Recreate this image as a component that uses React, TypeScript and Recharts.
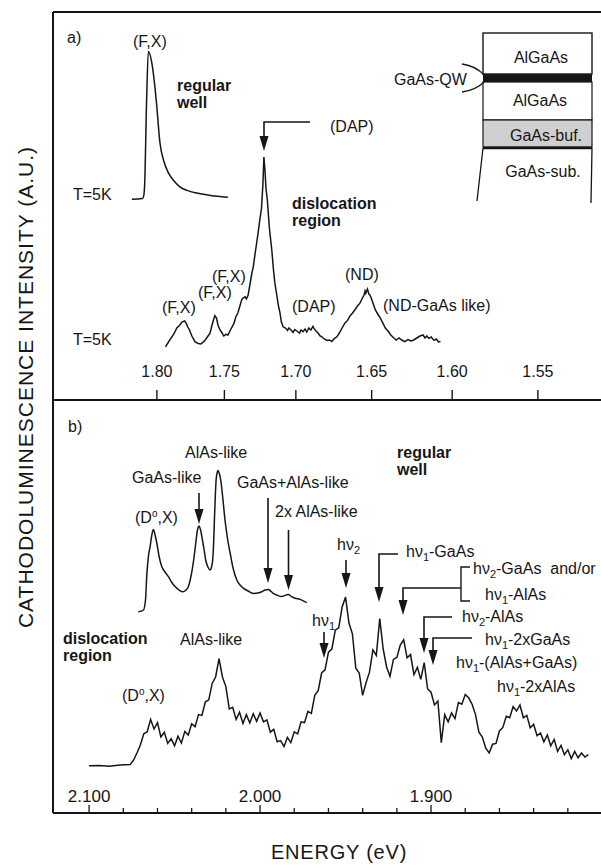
import React from "react";
import { LineChart, Line, XAxis, YAxis, ReferenceLine } from "recharts";

const FONT = '"Liberation Sans", Arial, Helvetica, sans-serif';
const INK = "#161616";
const HC = 1239.84; // eV*nm

// ---- panel a) : spectra recorded against wavelength (nm), axis labelled in eV
const ticksA_eV = [1.8, 1.75, 1.7, 1.65, 1.6, 1.55];

const wellA_nm = [681.5, 684.6, 685.0, 685.2, 685.8, 686.3, 687.5, 688.6, 689.7, 690.8, 692.2, 693.8, 695.5, 697.6, 700.0, 702.8, 705.6, 709.5];
const wellA_au = [50.2, 50.4, 51.3, 53.3, 75, 87.1, 83.3, 75, 64.2, 59.75, 56.7, 54.75, 53.3, 52.4, 51.8, 51.4, 51, 50.7];

const dislA_nm = [
  691.3, 692.0, 692.6, 693.2, 693.9, 694.6, 695.5, 696.1, 696.9, 697.4,
  697.8, 698.3, 699.0, 699.9, 700.8, 701.6, 702.2, 702.9, 703.7, 704.3,
  704.8, 705.3, 705.7, 706.2, 706.6, 707.2, 707.8, 708.3, 708.9, 709.5,
  710.1, 710.7, 711.3, 711.8, 712.4, 713.0, 713.5, 713.9, 714.5, 714.9,
  715.4, 715.9, 716.5, 716.9, 717.5, 718.3, 718.8, 719.3, 719.7, 720.0,
  720.3, 720.6, 721.0, 721.6, 722.3, 722.8, 723.2, 723.8, 724.2, 724.7,
  725.1, 725.6, 726.3, 726.9, 727.3, 727.9, 728.5, 729.0, 729.6, 730.4,
  730.8, 731.4, 732.0, 732.5, 733.1, 733.7, 734.3, 734.6, 735.2, 735.8,
  736.3, 736.9, 737.6, 738.4, 739.1, 739.8, 740.6, 741.3, 742.0, 742.8,
  743.6, 744.4, 745.1, 745.8, 746.5, 747.3, 748.0, 748.6, 749.2, 749.5,
  749.7, 750.2, 750.6, 750.9, 751.4, 751.9, 752.5, 753.2, 754.0, 754.7,
  755.4, 756.2, 757.0, 757.9, 758.6, 759.4, 760.2, 761.1, 762.0, 762.9,
  763.7, 764.6, 765.5, 766.4, 767.0, 767.5, 768.1, 768.8, 769.6, 770.3,
  770.9, 771.5,
];
const dislA_au = [
  13.3, 14.25, 15.1, 15.8, 16.75, 18, 18.75, 19.5, 19.75, 19.1,
  18.25, 17.5, 16, 14.6, 14.1, 14, 14.4, 15, 16, 16.7,
  18.5, 20, 21.1, 20.5, 18.75, 17.5, 16.75, 16, 16.4, 16.25,
  17.25, 18.25, 19.2, 20.75, 21.75, 23.5, 25, 25.5, 25.8, 25.25,
  26.25, 28.75, 31.75, 33.3, 37, 41.7, 45, 48, 53.75, 60.75,
  57.5, 53, 50, 43, 37.5, 32.5, 29.2, 26, 23.75, 21.7,
  19.5, 18.3, 18, 17.4, 18, 17.5, 16.9, 17.6, 17.25, 16.75,
  17.5, 17.1, 17.75, 17, 18, 17.5, 18.4, 17.9, 17.25, 16.75,
  16.1, 15.8, 15.25, 14.9, 15, 14.6, 15.4, 15.8, 16.75, 18,
  19.2, 19.9, 21, 21.7, 22.5, 23.5, 24.2, 25.25, 26.25, 27.25,
  26.7, 27.75, 26.5, 26.25, 25.25, 24, 22.5, 21.5, 20.4, 19.2,
  18, 17.25, 16.25, 15.5, 15, 15.5, 15, 14.6, 15.1, 14.75,
  15, 15.5, 16, 16.25, 15.5, 16, 15.4, 15.75, 14.9, 15.25,
  14.5, 14.6,
];

// ---- panel b) : energy axis (eV)
const ticksB_eV = [2.1, 2.08, 2.06, 2.04, 2.02, 2.0, 1.98, 1.96, 1.94, 1.92, 1.9, 1.88, 1.86, 1.84, 1.82];

const wellB_eV = [
  2.0712, 2.0682, 2.067, 2.0663, 2.0652, 2.0643, 2.0633, 2.0624, 2.0614, 2.0604,
  2.0591, 2.0575, 2.0556, 2.0536, 2.0518, 2.0497, 2.0474, 2.0452, 2.0433, 2.0419,
  2.0406, 2.0394, 2.0383, 2.0374, 2.0366, 2.0357, 2.0348, 2.0337, 2.0327, 2.0318,
  2.0305, 2.0292, 2.0284, 2.0277, 2.0272, 2.0267, 2.0262, 2.0257, 2.0251, 2.0247,
  2.0241, 2.023, 2.0218, 2.0205, 2.019, 2.0175, 2.0158, 2.0136, 2.0117, 2.0098,
  2.007, 2.0039, 2.0012, 1.999, 1.9971, 1.9951, 1.9936, 1.9922, 1.9898, 1.9873,
  1.9854, 1.9835, 1.9816, 1.9795, 1.9766, 1.9727,
];
const wellB_au = [
  50.3, 50.75, 53.25, 59.1, 64.5, 66.6, 69.5, 70.9, 69.5, 67.5,
  64.25, 61.6, 60.25, 59.1, 57.75, 56.6, 55.75, 55.3, 55.75, 56.6,
  58.75, 61.6, 65, 68.25, 70.75, 71.75, 70.75, 68.25, 65.75, 63.25,
  61.5, 60.75, 61.5, 63.25, 67, 73.25, 79, 83.25, 85.1, 85.6,
  85.25, 83.25, 78.75, 73.25, 68.5, 65, 61.25, 58.25, 57, 56.2,
  55.5, 54.9, 55, 55.3, 55.75, 55.9, 55.4, 54.9, 54.4, 54.1,
  54.4, 54.6, 54.1, 53.7, 53.4, 52.6,
];

const dislB_eV = [
  2.1, 2.094, 2.088, 2.082, 2.076,
  2.074, 2.072, 2.07, 2.068, 2.066, 2.064, 2.062, 2.06, 2.058, 2.056,
  2.054, 2.052, 2.05, 2.048, 2.046, 2.044, 2.042, 2.04, 2.038, 2.036,
  2.034, 2.032, 2.03, 2.028, 2.026, 2.024, 2.022, 2.02, 2.018, 2.016,
  2.014, 2.012, 2.01, 2.008, 2.006, 2.004, 2.002, 2.0, 1.998, 1.996,
  1.994, 1.992, 1.99, 1.988, 1.986, 1.984, 1.982, 1.98, 1.978, 1.976,
  1.974, 1.972, 1.97, 1.968, 1.966, 1.964, 1.962, 1.96, 1.958, 1.956,
  1.954, 1.952, 1.95, 1.948, 1.946, 1.944, 1.942, 1.94, 1.938, 1.936,
  1.934, 1.932, 1.93, 1.928, 1.926, 1.924, 1.922, 1.92, 1.918, 1.916,
  1.914, 1.912, 1.91, 1.908, 1.906, 1.904, 1.902, 1.9, 1.898, 1.896,
  1.894, 1.892, 1.89, 1.888, 1.886, 1.884, 1.882, 1.88, 1.878, 1.876,
  1.874, 1.872, 1.87, 1.868, 1.866, 1.864, 1.862, 1.86, 1.858, 1.856,
  1.854, 1.852, 1.85, 1.848, 1.846, 1.844, 1.842, 1.84, 1.838, 1.836,
  1.834, 1.832, 1.83, 1.828, 1.826, 1.824, 1.822, 1.82, 1.818, 1.816,
  1.814, 1.812, 1.81, 1.808,
];
const dislB_au = [
  11.8, 11.9, 11.7, 12.0, 12.1,
  13.2, 15.0, 17.0, 19.8, 20.3, 23.4, 21.0, 22.6, 19.0, 20.2,
  17.4, 18.6, 16.8, 19.2, 17.5, 20.4, 19.5, 22.3, 21.6, 24.6,
  24.4, 27.8, 28.3, 32.4, 34.0, 38.6, 34.0, 31.6, 26.0, 26.4,
  23.4, 25.2, 22.4, 24.6, 22.5, 24.8, 22.9, 25.0, 22.8, 23.3,
  20.2, 20.9, 17.8, 18.1, 16.6, 18.9, 17.6, 20.3, 19.8, 22.8,
  22.6, 25.4, 24.9, 29.4, 30.6, 35.0, 35.8, 40.2, 41.0, 45.7,
  46.3, 51.5, 54.0, 47.5, 44.8, 36.2, 35.0, 29.4, 32.6, 35.2,
  40.8, 39.4, 48.6, 41.0, 36.5, 34.2, 38.4, 38.9, 42.0, 43.3,
  38.8, 39.6, 34.6, 36.4, 33.4, 37.6, 31.0, 30.2, 27.0, 28.0,
  17.6, 24.6, 22.8, 25.0, 23.6, 27.6, 27.2, 29.6, 28.8, 27.2,
  24.6, 20.2, 19.0, 16.2, 15.0, 17.2, 17.4, 20.5, 21.4, 24.2,
  23.8, 26.6, 25.5, 27.0, 23.8, 24.4, 21.3, 22.2, 19.3, 20.0,
  17.8, 19.5, 16.8, 18.4, 15.4, 16.9, 14.6, 15.8, 13.6, 15.4,
  13.8, 15.0, 14.0, 14.6,
];

const wellA = wellA_nm.map((nm, i) => ({ nm, au: wellA_au[i] }));
const dislA = dislA_nm.map((nm, i) => ({ nm, au: dislA_au[i] }));
const wellB = wellB_eV.map((ev, i) => ({ ev, au: wellB_au[i] }));
const dislB = dislB_eV.map((ev, i) => ({ ev, au: dislB_au[i] }));

function TickA(props: any) {
  const { x, y, payload } = props;
  return (
    <g>
      <line x1={x} y1={y} x2={x} y2={y - 10} stroke={INK} strokeWidth={1.4} />
      <text x={x} y={y - 23} textAnchor="middle" fontSize={16} fontFamily={FONT} fill={INK}>
        {(HC / payload.value).toFixed(2)}
      </text>
    </g>
  );
}

function TickB(props: any) {
  const { x, y, payload } = props;
  const v = payload.value;
  const major = Math.abs(v * 10 - Math.round(v * 10)) < 1e-6;
  return (
    <g>
      <line x1={x} y1={y} x2={x} y2={y - (major ? 8 : 5)} stroke={INK} strokeWidth={1.3} />
      {major && (
        <text x={x} y={y - 11} textAnchor="middle" fontSize={17} fontFamily={FONT} fill={INK}>
          {v.toFixed(3)}
        </text>
      )}
    </g>
  );
}

function T({ x, y, children, bold, size = 16, anchor = "start" }: any) {
  return (
    <text x={x} y={y} fontSize={size} fontWeight={bold ? "bold" : "normal"} fontFamily={FONT} fill={INK} textAnchor={anchor}>
      {children}
    </text>
  );
}

// h nu with subscript
function Hnu({ x, y, sub, rest = "" }: any) {
  return (
    <text x={x} y={y} fontSize={16} fontFamily={FONT} fill={INK}>
      hν<tspan dy={4} fontSize={11}>{sub}</tspan>
      <tspan dy={-4}>{rest}</tspan>
    </text>
  );
}

function D0X({ x, y }: any) {
  return (
    <text x={x} y={y} fontSize={16} fontFamily={FONT} fill={INK}>
      (D<tspan dy={-6} fontSize={10}>o</tspan>
      <tspan dy={6}>,X)</tspan>
    </text>
  );
}

function Head({ x, y }: any) {
  return <polygon points={`${x - 4.5},${y - 15} ${x + 4.5},${y - 15} ${x},${y}`} fill={INK} />;
}

function Down({ x, y1, y2 }: any) {
  return (
    <g>
      <line x1={x} y1={y1} x2={x} y2={y2 - 12} stroke={INK} strokeWidth={1.6} />
      <Head x={x} y={y2} />
    </g>
  );
}

function Elbow({ x0, y0, x, y2 }: any) {
  return (
    <g>
      <path d={`M${x0},${y0} H${x} V${y2 - 12}`} fill="none" stroke={INK} strokeWidth={1.6} />
      <Head x={x} y={y2} />
    </g>
  );
}

const lineStyle = { stroke: INK, strokeWidth: 1.5, dot: false as const, isAnimationActive: false };

export default function App() {
  return (
    <div style={{ position: "absolute", left: 0, top: 0, width: 601, height: 867, background: "#fff", overflow: "hidden" }}>
      <div style={{ position: "absolute", left: 0, top: 0 }}>
        <LineChart width={601} height={401} margin={{ top: 12, right: 0, bottom: 0, left: 52 }}>
          <XAxis
            type="number"
            dataKey="nm"
            domain={[658.5, 818.3]}
            allowDataOverflow
            ticks={ticksA_eV.map((e) => HC / e)}
            interval={0}
            tick={<TickA />}
            tickLine={false}
            tickSize={0}
            tickMargin={0}
            height={1}
            axisLine={{ stroke: INK, strokeWidth: 2 }}
          />
          <YAxis type="number" domain={[0, 97]} allowDataOverflow width={1} tick={false} tickLine={false} axisLine={{ stroke: INK, strokeWidth: 2 }} />
          <ReferenceLine y={97} stroke={INK} strokeWidth={2} />
          <Line data={wellA} dataKey="au" type="monotone" {...lineStyle} />
          <Line data={dislA} dataKey="au" type="linear" {...lineStyle} />
        </LineChart>
      </div>
      <div style={{ position: "absolute", left: 0, top: 400 }}>
        <LineChart width={601} height={414} margin={{ top: 0, right: 0, bottom: 0, left: 52 }}>
          <XAxis
            type="number"
            dataKey="ev"
            domain={[1.8006, 2.1211]}
            reversed
            allowDataOverflow
            ticks={ticksB_eV}
            interval={0}
            tick={<TickB />}
            tickLine={false}
            tickSize={0}
            tickMargin={0}
            height={1}
            axisLine={{ stroke: INK, strokeWidth: 2 }}
          />
          <YAxis type="number" domain={[0, 103.25]} allowDataOverflow width={1} tick={false} tickLine={false} axisLine={{ stroke: INK, strokeWidth: 2 }} />
          <Line data={wellB} dataKey="au" type="monotone" {...lineStyle} />
          <Line data={dislB} dataKey="au" type="linear" {...lineStyle} />
        </LineChart>
      </div>

      <svg style={{ position: "absolute", left: 0, top: 0 }} width={601} height={867}>
        {/* axis titles */}
        <text x={25} y={387} transform="rotate(-90 25 387)" textAnchor="middle" dominantBaseline="central" fontSize={21} letterSpacing={1} fontFamily={FONT} fill={INK}>
          CATHODOLUMINESCENCE INTENSITY (A.U.)
        </text>
        <text x={339} y={859} textAnchor="middle" fontSize={20} letterSpacing={0.8} fontFamily={FONT} fill={INK}>
          ENERGY (eV)
        </text>

        {/* panel a annotations */}
        <T x={67} y={43}>a)</T>
        <T x={133} y={47}>(F,X)</T>
        <T x={177} y={91} bold>regular</T>
        <T x={177} y={108} bold>well</T>
        <T x={73} y={200}>T=5K</T>
        <T x={330} y={132}>(DAP)</T>
        <Elbow x0={310} y0={122} x={264} y2={151} />
        <T x={292} y={209} bold>dislocation</T>
        <T x={292} y={226} bold>region</T>
        <T x={345} y={280}>(ND)</T>
        <T x={212} y={282}>(F,X)</T>
        <T x={198} y={298}>(F,X)</T>
        <T x={162} y={313}>(F,X)</T>
        <T x={292} y={312}>(DAP)</T>
        <T x={383} y={311}>(ND-GaAs like)</T>
        <T x={73} y={345}>T=5K</T>

        {/* layer structure sketch */}
        <rect x={483} y={33} width={109} height={41} fill="#fff" stroke={INK} strokeWidth={1.4} />
        <rect x={483} y={74} width={109} height={8} fill={INK} />
        <rect x={483} y={82} width={109} height={38} fill="#fff" stroke={INK} strokeWidth={1.2} />
        <rect x={483} y={120} width={109} height={27} fill="#cfcfcf" stroke={INK} strokeWidth={1.2} />
        <line x1={483} y1={148} x2={592} y2={148} stroke={INK} strokeWidth={2.5} />
        <line x1={483} y1={148} x2={477} y2={201} stroke={INK} strokeWidth={1.3} />
        <line x1={592} y1={148} x2={591} y2={203} stroke={INK} strokeWidth={1.3} />
        <T x={541} y={63} anchor="middle">AlGaAs</T>
        <T x={540} y={106} anchor="middle">AlGaAs</T>
        <T x={546} y={141} anchor="middle">GaAs-buf.</T>
        <T x={543} y={177} anchor="middle">GaAs-sub.</T>
        <T x={394} y={85}>GaAs-QW</T>
        <path d="M462,64 Q476,66 484,75" fill="none" stroke={INK} strokeWidth={1.3} />
        <path d="M462,92 Q476,90 484,82" fill="none" stroke={INK} strokeWidth={1.3} />

        {/* panel b annotations */}
        <T x={68} y={432}>b)</T>
        <T x={185} y={458}>AlAs-like</T>
        <T x={132} y={483}>GaAs-like</T>
        <T x={237} y={488}>GaAs+AlAs-like</T>
        <D0X x={135} y={523} />
        <T x={275} y={517}>2x AlAs-like</T>
        <Down x={199} y1={493} y2={524} />
        <Down x={268} y1={498} y2={583} />
        <Down x={288.5} y1={530} y2={590} />
        <T x={397} y={458} bold>regular</T>
        <T x={397} y={475} bold>well</T>

        <Hnu x={337} y={550} sub="2" />
        <Down x={346} y1={560} y2={588} />
        <Hnu x={406} y={557} sub="1" rest="-GaAs" />
        <Elbow x0={398} y0={554} x={379} y2={602} />
        <Hnu x={473} y={574} sub="2" rest={"-GaAs\u00a0\u00a0and/or"} />
        <Hnu x={485} y={600} sub="1" rest="-AlAs" />
        <path d="M470,567 H461 V601 H470" fill="none" stroke={INK} strokeWidth={1.4} />
        <Elbow x0={461} y0={588} x={403} y2={615} />
        <Hnu x={462} y={622} sub="2" rest="-AlAs" />
        <Elbow x0={452} y0={617} x={424} y2={653} />
        <Hnu x={485} y={645} sub="1" rest="-2xGaAs" />
        <Elbow x0={472} y0={638} x={433} y2={665} />
        <Hnu x={456} y={668} sub="1" rest="-(AlAs+GaAs)" />
        <Hnu x={497} y={692} sub="1" rest="-2xAlAs" />
        <Hnu x={312} y={626} sub="1" />
        <Down x={324} y1={632} y2={658} />

        <T x={63} y={644} bold>dislocation</T>
        <T x={63} y={661} bold>region</T>
        <T x={180} y={645}>AlAs-like</T>
        <D0X x={122} y={701} />
      </svg>
    </div>
  );
}
